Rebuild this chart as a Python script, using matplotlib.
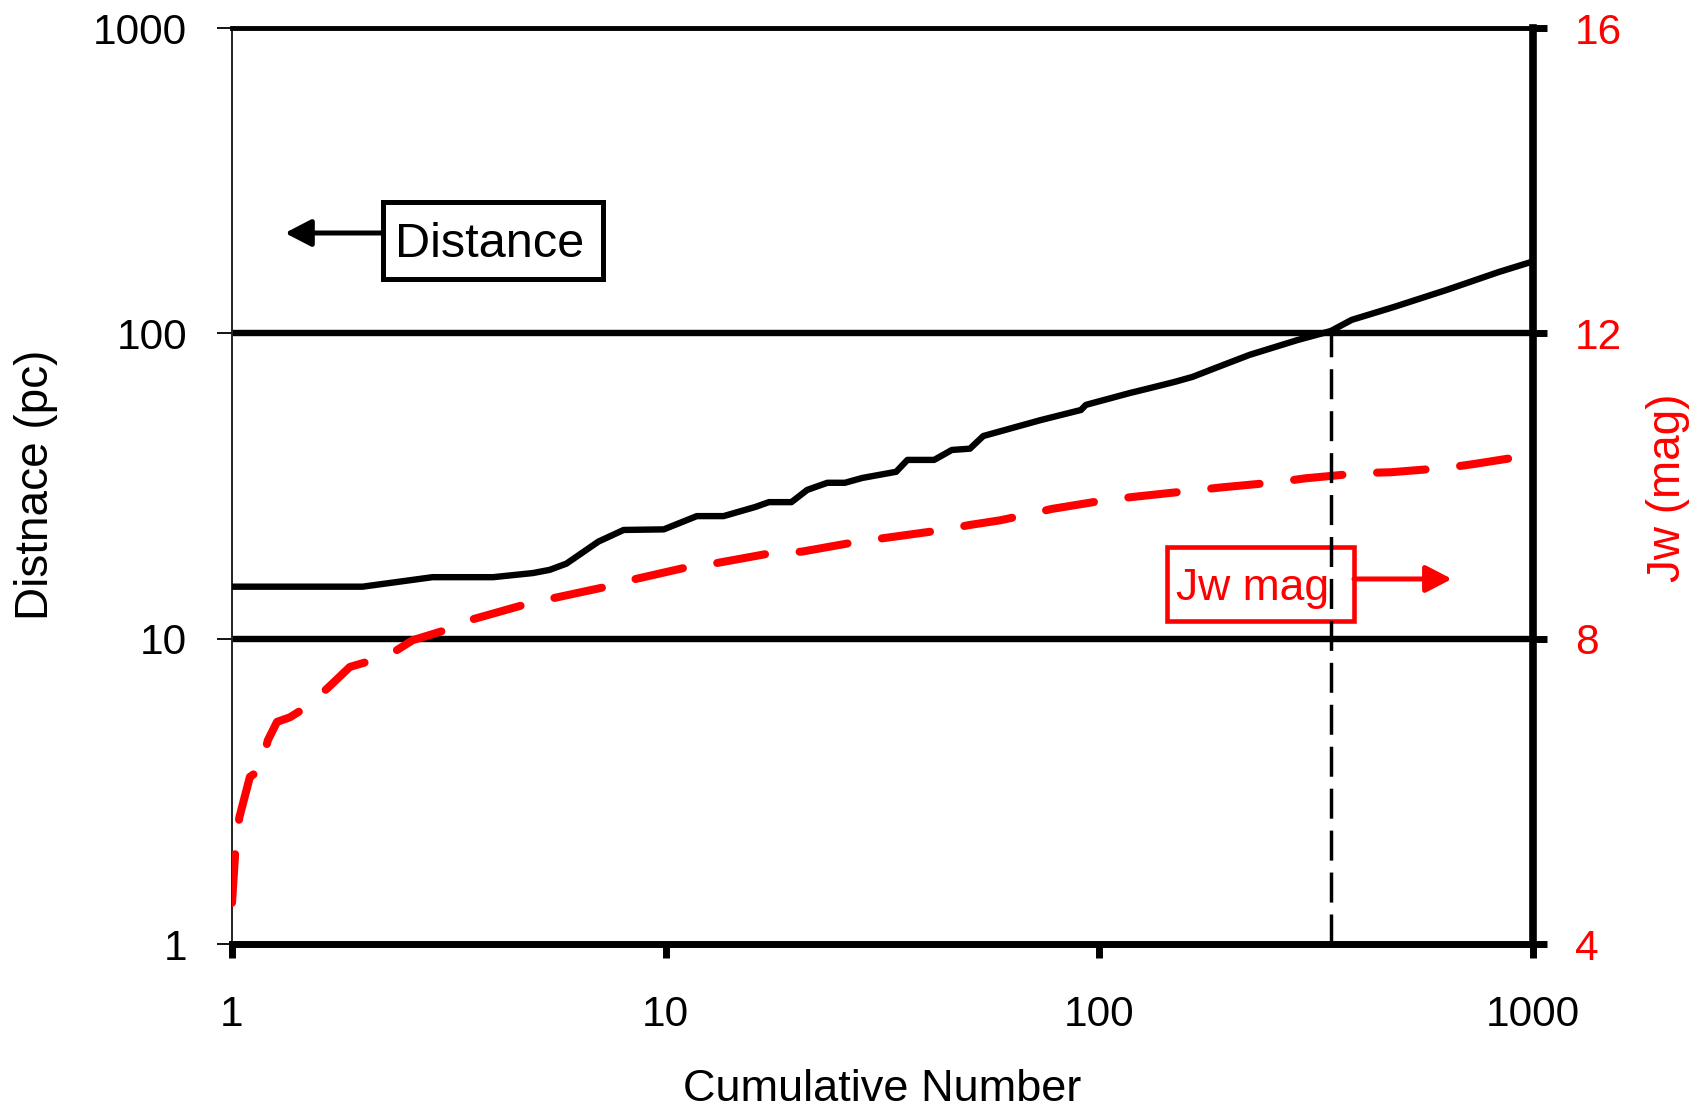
import matplotlib
matplotlib.use("Agg")
import matplotlib.pyplot as plt
from matplotlib.patches import Rectangle
from matplotlib.ticker import FixedLocator, NullLocator

plt.rcParams['font.family'] = ['Liberation Sans', 'DejaVu Sans']
plt.rcParams['lines.scale_dashes'] = False

# ---- data ----
dist_n = [1, 2, 2.9, 4, 4.94, 5.4, 5.9, 7, 8, 9.9, 11.8, 13.6, 16.1, 17.3, 19.5, 21.2,
          23.6, 25.9, 28.4, 34, 36.1, 41.6, 45.7, 50.3, 54, 73.3, 90.7, 93.1, 117.8,
          131, 149, 164, 183, 222, 286, 342, 382, 478, 632, 834, 1000]
dist_pc = [14.8, 14.8, 15.9, 15.9, 16.4, 16.8, 17.6, 20.8, 22.7, 22.8, 25.2, 25.2, 27.0,
           28.0, 28.0, 30.7, 32.4, 32.4, 33.6, 35.2, 38.5, 38.5, 41.5, 41.9, 46.1, 52.0,
           56.1, 58.3, 63.8, 66.2, 69.3, 72.0, 76.5, 85.0, 95.0, 101.8, 110.7, 122.0,
           138.7, 158.8, 172.0]

jw_n = [1.0, 1.02, 1.04, 1.07, 1.10, 1.16, 1.21, 1.27, 1.36, 1.47, 1.66, 1.87, 2.06,
        2.40, 2.61, 3.10, 3.57, 4.69, 5.5, 7.3, 8.5, 11.3, 13.1, 17.5, 20.6, 27.7, 32.1,
        43.1, 50.3, 59, 67.4, 77.8, 104.7, 121, 164, 190, 257, 298, 403, 470, 637, 735,
        1000]
jw_mag = [4.54, 5.3, 5.66, 5.93, 6.19, 6.28, 6.67, 6.91, 6.97, 7.09, 7.35, 7.63, 7.70,
          7.85, 7.98, 8.11, 8.25, 8.44, 8.53, 8.68, 8.78, 8.94, 8.99, 9.12, 9.14, 9.27,
          9.32, 9.42, 9.49, 9.55, 9.62, 9.70, 9.82, 9.86, 9.94, 9.98, 10.05, 10.10,
          10.17, 10.18, 10.24, 10.29, 10.41]

x_ticks = [1, 10, 100, 1000]
x_tick_labels = ['1', '10', '100', '1000']
y_ticks = [1, 10, 100, 1000]
y_tick_labels = ['1', '10', '100', '1000']
y2_ticks = [4, 8, 12, 16]
y2_tick_labels = ['4', '8', '12', '16']
ref_lines = [10, 100]
marker_n = 343          # cumulative number where distance reaches 100 pc
marker_d = [1, 100]

# ---- figure ----
fig = plt.figure(figsize=(16.97, 11.13), dpi=100)
ax = fig.add_axes([232/1697, 1-944/1113, 1301/1697, 916/1113])
ax.set_xscale('log')
ax.set_yscale('log')
ax.set_xlim(1, 1000)
ax.set_ylim(1, 1000)

for v in ref_lines:
    ax.axhline(v, color='black', lw=4.6, zorder=1)

ax.plot(dist_n, dist_pc, color='black', lw=4.6, solid_capstyle='round',
        solid_joinstyle='round', zorder=3)

ax.xaxis.set_major_locator(FixedLocator(x_ticks))
ax.xaxis.set_minor_locator(NullLocator())
ax.set_xticklabels(x_tick_labels)
ax.yaxis.set_major_locator(FixedLocator(y_ticks))
ax.yaxis.set_minor_locator(NullLocator())
ax.set_yticklabels(y_tick_labels)

ax.tick_params(axis='x', direction='out', length=10, width=5, pad=27,
               labelsize=30.5, colors='black')
ax.tick_params(axis='y', direction='out', length=10.8, width=1.3, pad=21.5,
               labelsize=30.5, colors='black')

ax.spines['left'].set_linewidth(1.4)
ax.spines['left'].set_color('#222222')
ax.spines['top'].set_linewidth(3.5)
ax.spines['bottom'].set_linewidth(5)
ax.spines['right'].set_visible(False)

ax.set_xlabel('Cumulative Number', fontsize=32.5)
ax.xaxis.set_label_coords(0.5, -0.1365)
ax.set_ylabel('Distnace (pc)', fontsize=33)
ax.yaxis.set_label_coords(-0.1337, 0.501)

# ---- right axis ----
ax2 = ax.twinx()
ax2.set_ylim(4, 16)
ax2.yaxis.set_major_locator(FixedLocator(y2_ticks))
ax2.yaxis.set_minor_locator(NullLocator())
ax2.set_yticklabels(y2_tick_labels)
ax2.tick_params(axis='y', direction='out', length=10, width=5, pad=20,
                labelsize=30.5, labelcolor='red', color='black')
for s in ['left', 'top', 'bottom']:
    ax2.spines[s].set_visible(False)
ax2.spines['right'].set_linewidth(5.5)
ax2.set_ylabel('Jw (mag)', fontsize=33, color='red')
ax2.yaxis.set_label_coords(1.0869, 0.498)

red_line, = ax2.plot(jw_n, jw_mag, color='red', lw=5.8, dash_capstyle='round',
                     dash_joinstyle='round', zorder=3)
red_line.set_dashes((35, 25))

# vertical marker (drawn in distance coordinates, on top)
vline, = ax2.plot([marker_n, marker_n], marker_d, color='black', lw=2.5,
                  transform=ax.transData, zorder=6, dash_capstyle='butt')
vline.set_dashes((21.6, 8.6))

# ---- annotation boxes ----
ax2.add_patch(Rectangle((0.1161, 0.726), 0.2852-0.1161, 0.810-0.726,
                        transform=ax2.transAxes, fill=False, lw=3.6,
                        edgecolor='black', zorder=4, clip_on=False))
ax2.text(0.1253, 0.75, 'Distance', transform=ax2.transAxes, fontsize=35,
         ha='left', va='baseline', color='black', zorder=5)
ax2.annotate('', xy=(0.0407, 0.7762), xytext=(0.1161, 0.7762),
             xycoords='axes fraction', textcoords='axes fraction',
             arrowprops=dict(arrowstyle='-|>,head_length=0.79,head_width=0.41',
                             mutation_scale=20, lw=3.6, color='black',
                             shrinkA=0, shrinkB=0), zorder=5)

ax2.add_patch(Rectangle((0.7187, 0.3526), 0.8624-0.7187, 0.4334-0.3526,
                        transform=ax2.transAxes, fill=False, lw=3.3,
                        edgecolor='red', zorder=4, clip_on=False))
ax2.text(0.7256, 0.3755, 'Jw mag', transform=ax2.transAxes, fontsize=32,
         ha='left', va='baseline', color='red', zorder=5)
ax2.annotate('', xy=(0.9377, 0.3985), xytext=(0.8624, 0.3985),
             xycoords='axes fraction', textcoords='axes fraction',
             arrowprops=dict(arrowstyle='-|>,head_length=0.79,head_width=0.41',
                             mutation_scale=20, lw=3.6, color='red',
                             shrinkA=0, shrinkB=0), zorder=5)

fig.savefig('out.png', dpi=100)
